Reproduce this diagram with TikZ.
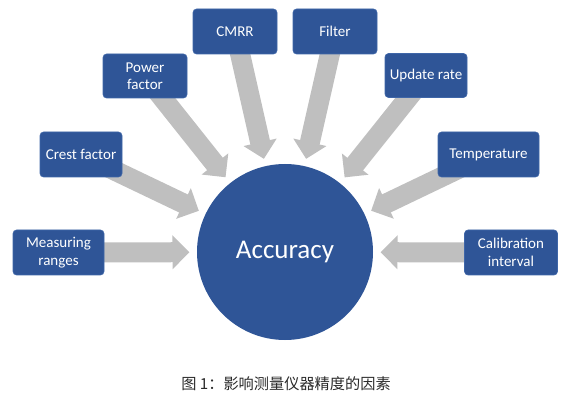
\documentclass[tikz,border=0pt]{standalone}
\usepackage{fontspec}
\setmainfont{Carlito}
\newfontfamily\cjk{Noto Sans CJK SC}
\usetikzlibrary{arrows.meta,backgrounds}
\definecolor{boxblue}{HTML}{2F5597}
\definecolor{boxedge}{HTML}{3F66A8}
\definecolor{arrgray}{HTML}{BFBFBF}
\definecolor{captxt}{HTML}{2A2A2A}
\tikzset{
  factor/.style={rectangle, rounded corners=3.5pt, fill=boxblue, draw=boxedge, line width=0.6pt,
    text=white, font=\fontsize{15}{17.5}\selectfont, align=center, inner sep=0pt, outer sep=0pt},
  hub/.style={circle, fill=boxblue, text=white, font=\fontsize{27}{30}\selectfont,
    minimum size=176pt, inner sep=0pt, outer sep=0pt},
  bigarrow/.style={draw=arrgray, line width=20pt, line cap=butt,
    -{Triangle[length=17pt,width=33pt,fill=arrgray]}, shorten >=7.5pt},
  caption/.style={text=captxt, font=\cjk\fontsize{15.2}{17}\selectfont, inner sep=0pt}
}
\begin{document}
\begin{tikzpicture}[x=1pt,y=-1pt]
\useasboundingbox (0,0) rectangle (568,406);
% hub
\node[hub] (acc) at (285,252) {Accuracy};
% factor boxes
\node[factor, minimum width=91pt, minimum height=45pt] (meas) at (58.5,252.5) {Measuring\\ranges};
\node[factor, minimum width=82pt, minimum height=45pt] (crest) at (81,154.5) {Crest factor};
\node[factor, minimum width=84pt, minimum height=44pt] (power) at (145,76) {Power\\factor};
\node[factor, minimum width=84pt, minimum height=45pt] (cmrr) at (235,31.5) {CMRR};
\node[factor, minimum width=84pt, minimum height=45pt] (filter) at (335,31.5) {Filter};
\node[factor, minimum width=82pt, minimum height=44pt] (update) at (426,75.5) {Update rate};
\node[factor, minimum width=101pt, minimum height=45pt] (temp) at (488.5,154.5) {Temperature};
\node[factor, minimum width=93pt, minimum height=45pt] (calib) at (511,252.5) {Calibration\\interval};
% arrows behind the boxes
\begin{scope}[on background layer]
\draw[bigarrow] (meas.center) -- (acc);
\draw[bigarrow] (crest.center) -- (acc);
\draw[bigarrow] (power.center) -- (acc);
\draw[bigarrow] (cmrr.center) -- (acc);
\draw[bigarrow] (filter.center) -- (acc);
\draw[bigarrow] (update.center) -- (acc);
\draw[bigarrow] (temp.center) -- (acc);
\draw[bigarrow] (calib.center) -- (acc);
\end{scope}
% caption
\node[caption] (cap) at (286,383.5) {图 1：影响测量仪器精度的因素};
\end{tikzpicture}
\end{document}
